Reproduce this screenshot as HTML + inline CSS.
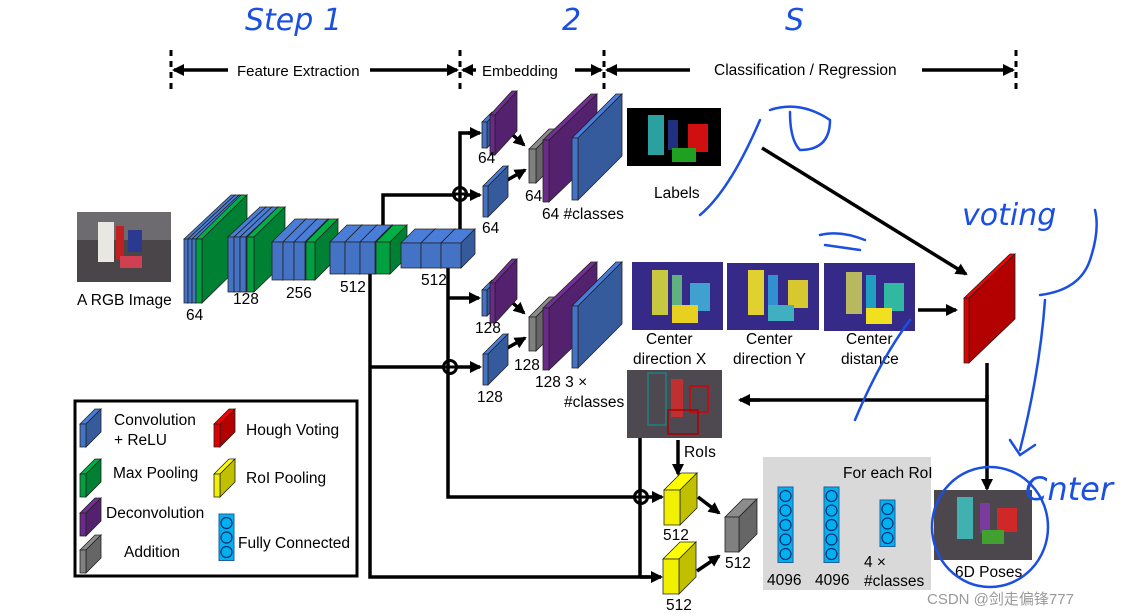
<!DOCTYPE html>
<html><head><meta charset="utf-8"><style>
html,body{margin:0;padding:0;background:#fff;}
svg{display:block;font-family:"Liberation Sans","DejaVu Sans",sans-serif;}
</style></head><body>
<svg id="s" width="1127" height="616" viewBox="0 0 1127 616" xmlns="http://www.w3.org/2000/svg">
<defs>
<marker id="ah" markerWidth="12" markerHeight="12" refX="10" refY="6" orient="auto" markerUnits="userSpaceOnUse"><path d="M0,0 L12,6 L0,12 z" fill="#000"/></marker>
</defs>
<rect width="1127" height="616" fill="#fff"/>
<!-- header -->
<g stroke="#000" stroke-width="3" stroke-dasharray="6,5">
<line x1="171" y1="50" x2="171" y2="90"/><line x1="460" y1="50" x2="460" y2="90"/><line x1="604" y1="50" x2="604" y2="90"/><line x1="1016" y1="50" x2="1016" y2="90"/>
</g>
<g stroke="#000" stroke-width="3.5" marker-end="url(#ah)">
<line x1="228" y1="70" x2="174" y2="70"/><line x1="370" y1="70" x2="457" y2="70"/>
<line x1="480" y1="70" x2="463" y2="70"/>
<line x1="575" y1="70" x2="601" y2="70"/>
<line x1="690" y1="70" x2="607" y2="70"/><line x1="922" y1="70" x2="1013" y2="70"/>
</g>
<rect x="232" y="56" width="134" height="26" fill="#fff"/>
<rect x="476" y="56" width="98" height="26" fill="#fff"/>
<text x="237" y="76" font-size="15">Feature Extraction</text>
<text x="482" y="76" font-size="15">Embedding</text>
<text x="714" y="75" font-size="15.5">Classification / Regression</text>

<!-- connectors -->
<g stroke="#000" stroke-width="3.5" fill="none">
<polyline points="383,230 383,195 456,195"/>
<polyline points="460,230 460,133 470,133"/>
<polyline points="448,268 448,497 634,497"/>
<polyline points="370,274 370,577 650,577"/>
<polyline points="370,367 444,367"/>
<line x1="640" y1="438" x2="640" y2="577"/>
<line x1="987" y1="363" x2="987" y2="400"/>
<line x1="987" y1="400" x2="750" y2="400"/>
</g>
<g stroke="#000" stroke-width="3.5" marker-end="url(#ah)">
<line x1="464" y1="195" x2="480" y2="195"/>
<line x1="468" y1="133" x2="480" y2="133"/>
<line x1="448" y1="298" x2="479" y2="298"/>
<line x1="456" y1="367" x2="480" y2="367"/>
<line x1="646" y1="497" x2="662" y2="497"/>
<line x1="640" y1="577" x2="661" y2="577"/>
<line x1="678" y1="440" x2="678" y2="474"/>
<line x1="760" y1="400" x2="740" y2="400"/>
<line x1="987" y1="395" x2="987" y2="489"/>
<line x1="762" y1="148" x2="966" y2="274"/>
<line x1="918" y1="310" x2="956" y2="310"/>
<line x1="505" y1="128" x2="524" y2="145"/><line x1="502" y1="183" x2="525" y2="170"/>
<line x1="505" y1="296" x2="524" y2="313"/><line x1="502" y1="351" x2="525" y2="338"/>
<line x1="698" y1="497" x2="719" y2="513"/><line x1="697" y1="571" x2="719" y2="556"/>
</g>
<g stroke="#000" stroke-width="3" fill="none">
<circle cx="460" cy="194" r="6.5"/><line x1="453" y1="194" x2="467" y2="194"/>
<circle cx="450" cy="367" r="6.5"/><line x1="443" y1="367" x2="457" y2="367"/>
<circle cx="641" cy="497" r="6.5"/><line x1="634" y1="497" x2="648" y2="497"/>
</g>
<g id="boxes"></g>

<!-- images -->
<rect x="77" y="212" width="94" height="70" fill="#4a4548"/>
<rect x="77" y="212" width="94" height="28" fill="#6d6a70"/>
<rect x="98" y="222" width="16" height="40" fill="#e8e8e0"/><rect x="116" y="226" width="8" height="34" fill="#c02020"/><rect x="128" y="230" width="14" height="22" fill="#2a3a90"/><rect x="120" y="256" width="22" height="12" fill="#d04050"/>
<rect x="627" y="108" width="94" height="58" fill="#000"/>
<rect x="648" y="115" width="16" height="40" fill="#2aa0a0"/><rect x="668" y="120" width="10" height="30" fill="#203080"/><rect x="688" y="124" width="20" height="28" fill="#d01010"/><rect x="672" y="148" width="24" height="14" fill="#20a020"/>
<rect x="632" y="262" width="91" height="68" fill="#362a88"/>
<rect x="727" y="263" width="92" height="67" fill="#362a88"/>
<rect x="824" y="263" width="91" height="68" fill="#362a88"/>
<g><rect x="652" y="270" width="16" height="45" fill="#c8c840"/><rect x="672" y="275" width="10" height="38" fill="#60b080"/><rect x="690" y="283" width="20" height="28" fill="#40a0d0"/><rect x="672" y="305" width="26" height="18" fill="#e8d020"/></g>
<g><rect x="748" y="270" width="16" height="45" fill="#e0d030"/><rect x="768" y="275" width="10" height="38" fill="#3090d0"/><rect x="788" y="280" width="20" height="28" fill="#d8c830"/><rect x="768" y="305" width="26" height="16" fill="#40b0c0"/></g>
<g><rect x="846" y="272" width="16" height="42" fill="#b8b860"/><rect x="866" y="275" width="10" height="35" fill="#20a0c0"/><rect x="884" y="283" width="20" height="28" fill="#30b8a0"/><rect x="866" y="308" width="26" height="16" fill="#f0e020"/></g>
<rect x="627" y="370" width="95" height="68" fill="#4e4850"/>
<rect x="648" y="373" width="18" height="52" fill="none" stroke="#208080" stroke-width="1.5"/><rect x="671" y="379" width="12" height="38" fill="#c03030"/><rect x="690" y="386" width="18" height="26" fill="none" stroke="#d00" stroke-width="1.5"/><rect x="668" y="410" width="30" height="24" fill="none" stroke="#a00" stroke-width="1.5"/>
<rect x="934" y="490" width="98" height="70" fill="#4c474c"/>
<rect x="957" y="497" width="16" height="42" fill="#40b0b0"/><rect x="980" y="503" width="10" height="30" fill="#7a3aa0"/><rect x="997" y="508" width="20" height="24" fill="#d02828"/><rect x="982" y="530" width="22" height="14" fill="#40a030"/>

<!-- labels -->
<g font-size="15.5" fill="#000">
<text x="77" y="305">A RGB Image</text>
<text x="186" y="320">64</text><text x="233" y="304">128</text><text x="286" y="298">256</text><text x="340" y="292">512</text><text x="421" y="285">512</text>
<text x="478" y="163">64</text><text x="482" y="233">64</text><text x="525" y="201">64</text><text x="542" y="219">64 #classes</text>
<text x="475" y="333">128</text><text x="477" y="402">128</text><text x="514" y="370">128</text><text x="535" y="387">128 3 ×</text><text x="564" y="407">#classes</text>
<text x="654" y="198">Labels</text>
<text x="646" y="344">Center</text><text x="633" y="364">direction X</text>
<text x="746" y="344">Center</text><text x="733" y="364">direction Y</text>
<text x="846" y="344">Center</text><text x="841" y="364">distance</text>
<text x="684" y="457">RoIs</text>
<text x="663" y="540">512</text><text x="666" y="610">512</text><text x="725" y="568">512</text>
</g>
<rect x="763" y="457" width="168" height="133" fill="#d9d9d9"/>
<g font-size="15.5"><text x="843" y="478">For each RoI</text><text x="767" y="585">4096</text><text x="815" y="585">4096</text><text x="864" y="567">4 ×</text><text x="864" y="586">#classes</text><text x="955" y="577">6D Poses</text></g>
<g id="fc"></g>

<!-- legend -->
<rect x="75" y="401" width="282" height="175" fill="none" stroke="#000" stroke-width="3"/>
<g font-size="15.5"><text x="114" y="425">Convolution</text><text x="114" y="445">+ ReLU</text><text x="113" y="478">Max Pooling</text><text x="106" y="518">Deconvolution</text><text x="124" y="557">Addition</text><text x="246" y="435">Hough Voting</text><text x="246" y="483">RoI Pooling</text><text x="238" y="548">Fully Connected</text></g>

<!-- handwriting -->
<g stroke="#1a4fe0" stroke-width="2.5" fill="none" stroke-linecap="round">
<ellipse cx="990" cy="527" rx="58" ry="60"/>
<path d="M700,215 Q730,190 760,120 M770,110 Q800,100 830,120 Q830,150 800,150 Q790,140 790,112"/>
<path d="M1045,300 Q1040,370 1020,450 M1010,440 L1020,455 L1035,445"/>
<path d="M1040,295 Q1080,290 1090,260 Q1100,230 1095,210"/>
<path d="M855,420 Q880,360 910,320"/>
<path d="M820,235 Q840,230 865,240 M825,245 L860,250"/>
</g>
<g fill="#1a4fe0" font-family="'DejaVu Sans',sans-serif" font-style="italic">
<text x="245" y="30" font-size="30">Step 1</text>
<text x="562" y="30" font-size="30">2</text>
<text x="785" y="30" font-size="30">S</text>
<text x="962" y="225" font-size="30">voting</text>
<text x="1025" y="500" font-size="32">Cnter</text>
</g>
<text x="927" y="604" font-size="15" fill="#999" font-family="'Liberation Sans','Noto Sans CJK SC',sans-serif">CSDN @剑走偏锋777</text>
</svg>
<script>
var g=document.getElementById('boxes'),NS='http://www.w3.org/2000/svg';
function sh(c,f){var n=parseInt(c.slice(1),16),r=Math.min(255,(n>>16)*f|0),gg=Math.min(255,((n>>8)&255)*f|0),b=Math.min(255,(n&255)*f|0);return 'rgb('+r+','+gg+','+b+')';}
function P(pts,fill,par){var p=document.createElementNS(NS,'polygon');p.setAttribute('points',pts);p.setAttribute('fill',fill);p.setAttribute('stroke','#222');p.setAttribute('stroke-width','0.8');(par||g).appendChild(p);}
function B(x,y,w,h,dx,dy,c){P([x,y,x+dx,y-dy,x+w+dx,y-dy,x+w,y].join(','),sh(c,1.1));P([x+w,y,x+w+dx,y-dy,x+w+dx,y+h-dy,x+w,y+h].join(','),sh(c,0.8));P([x,y,x+w,y,x+w,y+h,x,y+h].join(','),c);}
var BL='#4472c4',GR='#00a040',PU='#6a2a8a',GY='#808080',YE='#f0f000',RD='#e00000';
[184,188,192].forEach(function(x){B(x,239,4,64,47,44,BL)});B(196,239,6,64,45,44,GR);
[228,234,240].forEach(function(x){B(x,237,6,55,32,30,BL)});B(247,237,7,55,31,30,GR);
[272,283,294].forEach(function(x){B(x,242,11,38,23,23,BL)});B(306,242,9,38,23,23,GR);
[330,345,360].forEach(function(x){B(x,242,15,32,17,17,BL)});B(376,242,14,32,17,17,GR);
[401,421,441].forEach(function(x){B(x,243,20,25,14,14,BL)});
[0,168].forEach(function(o){
B(482,122+o,5,26,10,10,BL);B(490,115+o,5,40,22,24,PU);B(483,186+o,5,31,20,20,BL);
B(529,149+o,7,34,20,20,GY);B(543,140+o,6,62,48,46,PU);B(572,138+o,6,62,44,44,BL);});
B(964,298,5,65,46,44,RD);
B(664,490,16,35,17,17,YE);B(663,559,16,35,17,17,YE);B(725,517,14,35,18,18,GY);
B(80,424,6,23,15,15,BL);B(80,474,6,23,15,15,GR);B(80,513,6,23,15,15,PU);B(80,550,6,23,15,15,GY);B(214,424,6,23,15,15,RD);B(214,474,6,23,15,15,YE);
var f=document.getElementById('fc');
function FC(x,y,n,par){var r=document.createElementNS(NS,'rect');r.setAttribute('x',x);r.setAttribute('y',y);r.setAttribute('width',15);r.setAttribute('height',n*14.5+3);r.setAttribute('fill','#00b0f0');r.setAttribute('stroke','#2060a0');par.appendChild(r);
for(var i=0;i<n;i++){var c=document.createElementNS(NS,'circle');c.setAttribute('cx',x+7.5);c.setAttribute('cy',y+9+i*14.5);c.setAttribute('r',5.5);c.setAttribute('fill','none');c.setAttribute('stroke','#003070');c.setAttribute('stroke-width','1.2');par.appendChild(c);}}
FC(778,487,5,f);FC(824,487,5,f);FC(880,500,3,f);FC(219,514,3,f);
</script>
</body></html>
